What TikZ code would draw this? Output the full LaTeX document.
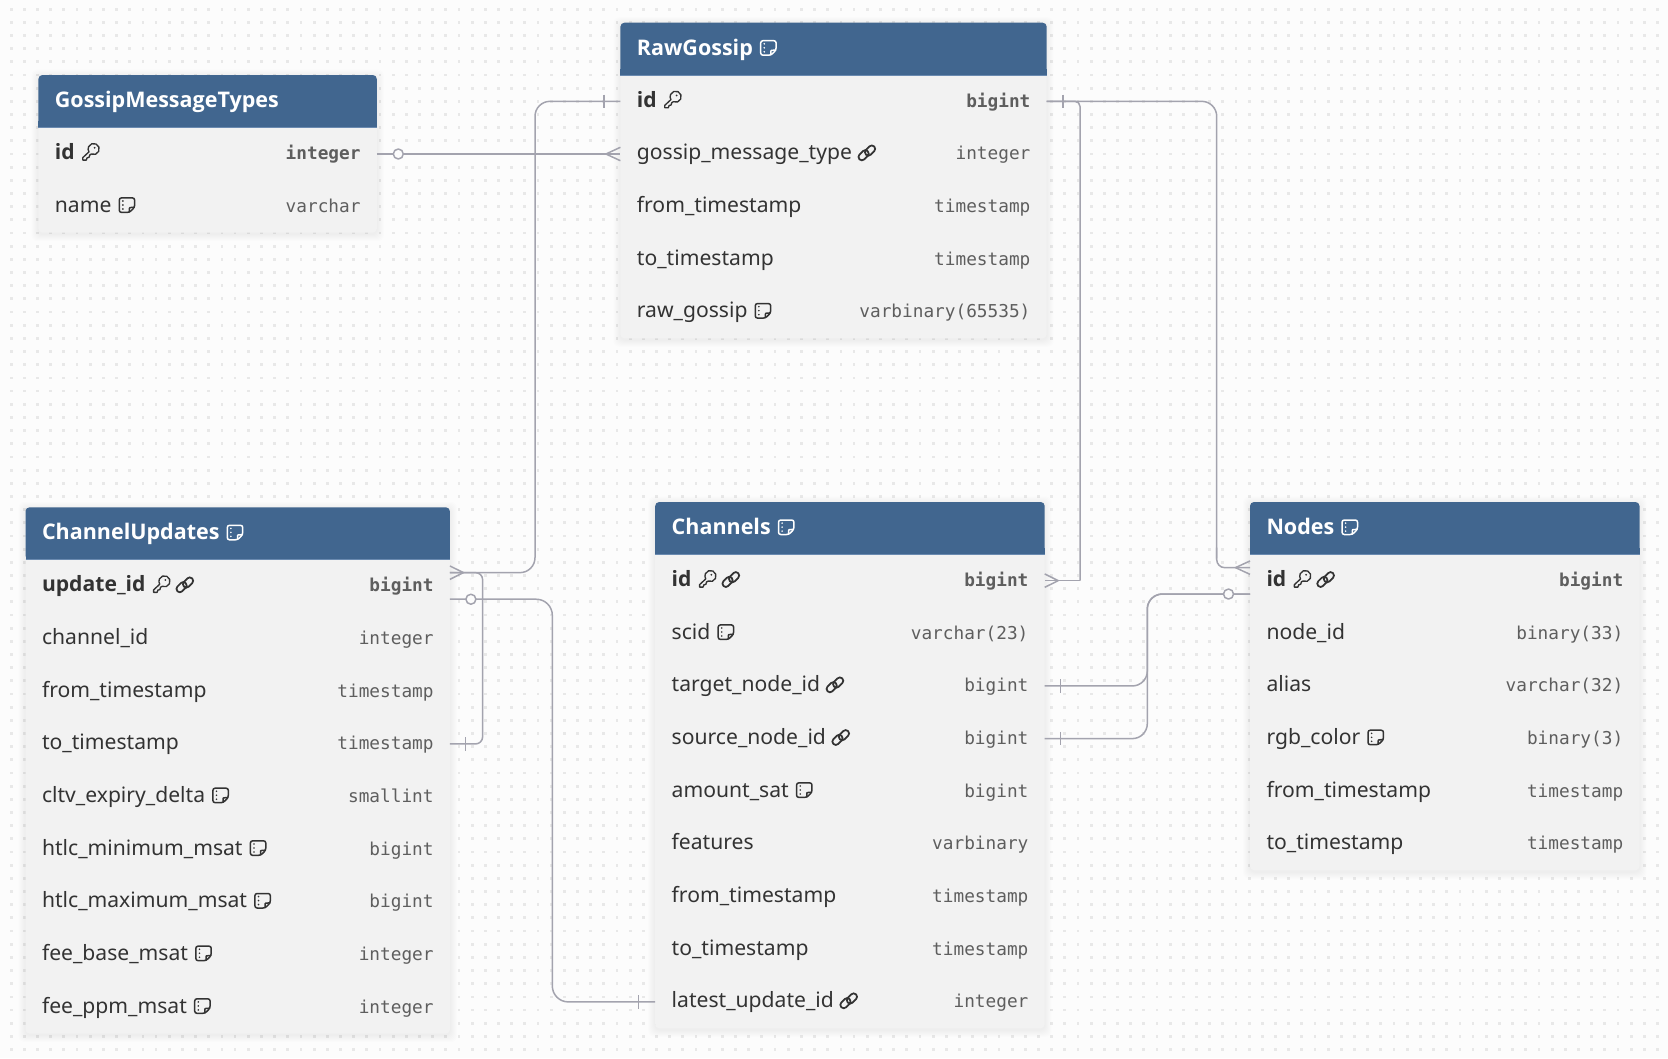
\documentclass[tikz,border=0pt]{standalone}
\usepackage{fontspec}
\usetikzlibrary{calc}
\setmainfont{Noto Sans}
\IfFontExistsTF{Noto Sans Bold}
  {\newfontfamily\fieldbold{Noto Sans Bold}}
  {\IfFontExistsTF{Open Sans Bold}
    {\newfontfamily\fieldbold{Open Sans Bold}}
    {\newfontfamily\fieldbold{Noto Sans}[FakeBold=1.6,FakeStretch=1.06]}}
\newfontfamily\monof{DejaVu Sans Mono}
\definecolor{pagebg}{HTML}{FCFCFC}
\definecolor{griddot}{HTML}{E8E8E8}
\definecolor{bodyfill}{HTML}{F2F2F2}
\definecolor{headfill}{HTML}{41668F}
\definecolor{headline}{HTML}{6A8AB0}
\definecolor{inktext}{HTML}{333333}
\definecolor{typetext}{HTML}{5E5E5E}
\definecolor{relline}{HTML}{A3A3AE}
\newcommand{\fieldfont}{\fontsize{21.12}{24}\selectfont}
\newcommand{\titlefont}{\fontsize{21.5}{24}\selectfont}
\newcommand{\typefont}{\monof\fontsize{17.75}{22}\selectfont}
\newcommand{\fb}[1]{{\fieldbold #1}}
\tikzset{
  rowbox/.style={inner sep=0pt,outer sep=0pt,minimum height=52.66pt},
  fieldtxt/.style={inner sep=0pt,outer sep=0pt,anchor=base west,text=inktext,font=\fieldfont},
  typetxt/.style={inner sep=0pt,outer sep=0pt,anchor=base east,text=typetext,font=\typefont},
  titletxt/.style={inner sep=0pt,outer sep=0pt,anchor=base west,text=white,font=\titlefont\fieldbold},
  rel/.style={draw=relline,line width=1.5pt,line join=round},
  notepic/.pic={\begin{scope}[x=1pt,y=1pt]
    \draw[line width=1.5pt,rounded corners=2.2pt] (0.8,15.3)--(16.2,15.3)--(16.2,6)--(11,0.8)--(0.8,0.8)--cycle;
    \draw[line width=1.5pt,line join=round] (11,0.8)--(11,5)--(11.5,5.6)--(16.2,6);
    \fill (4.4,12.2) circle (0.9pt) (4.4,8.2) circle (0.9pt) (4.4,4.2) circle (0.9pt);
  \end{scope}},
  keypic/.pic={\begin{scope}[x=1.08pt,y=1.08pt]
    \draw[line width=1.35pt,line join=round] (8.9,6)
      arc[start angle=245,end angle=571.5,radius=5.15]
      --(1,2.7)--(1,0.4)--(4.2,0.4)--(5,2.5)--(6.8,3)--(7.5,5.2)--cycle;
    \fill (11.9,11.8) circle (1pt);
  \end{scope}},
  linkpic/.pic={\begin{scope}[x=1pt,y=1pt,shift={(7.8,8)},rotate=45]
    \draw[line width=1.75pt,rounded corners=3.2pt] (-9.7,-2.7) rectangle (1.8,4);
    \draw[line width=1.75pt,rounded corners=3.2pt] (-1.8,-4) rectangle (9.7,2.7);
  \end{scope}},
  nonepic/.pic={}
}
% table frame: key, left, top, width, number of rows, title, icon
\newcommand{\tableframe}[7]{%
  \def\tleft{#2}\def\twide{#4}%
  \pgfmathsetmacro\tright{#2+#4}%
  \pgfmathsetmacro\theadb{#3+52.3}%
  \pgfmathsetmacro\tbot{\theadb+#5*52.66}%
  \pgfmathsetmacro\tcx{#2+#4/2}%
  \pgfmathsetmacro\tfirst{\theadb+26.33}%
  \def\rowi{0}%
  \foreach \s in {1,...,7}{%
    \fill[black,opacity=0.008,rounded corners=6pt]
      (#2-\s,#3-\s+1.5) rectangle (\tright+\s,\tbot+\s+1.5);}%
  \fill[bodyfill,rounded corners=4pt] (#2,#3+6) rectangle (\tright,\tbot);
  \fill[headfill,rounded corners=4pt] (#2,\theadb)--(#2,#3)--(\tright,#3)--(\tright,\theadb)--cycle;
  \fill[headfill] (#2,\theadb-6) rectangle (\tright,\theadb);
  \draw[headline,line width=0.8pt] (#2,\theadb)--(\tright,\theadb);
  \node[titletxt] (#1title) at (#2+16.5,#3+32.3) {#6};
  \pic[color=white] at ($(#1title.base east)+(7,1)$) {#7pic};
}
\newcommand{\fieldrow}[4]{%
  \pgfmathsetmacro\ry{\tfirst+\rowi*52.66}%
  \node[rowbox,minimum width=\twide pt] (#1) at (\tcx,\ry) {};
  \node[fieldtxt] (#1lbl) at ($(#1.west)+(16.5,5.9)$) {#2};
  \node[typetxt] (#1typ) at ($(#1.east)+(-16.3,6)$) {#3};
  \foreach \ic [count=\n from 0] in {#4}{%
    \pic[color=inktext] at ($(#1lbl.base east)+(7+\n*24.5,1)$) {\ic pic};}
  \pgfmathsetmacro\rowi{\rowi+1}\global\let\rowi\rowi
}
\newcommand{\barmark}[2]{\draw[rel] ($(#1)+(#2,-6.7)$)--($(#1)+(#2,6.7)$);}
\newcommand{\crowmark}[2]{\draw[rel] ($(#1)+(0,-6.7)$)--($(#1)+(#2,0)$)--($(#1)+(0,6.7)$);}
\newcommand{\circmark}[2]{\draw[rel,fill=pagebg] ($(#1)+(#2,0)$) circle (5pt);}
\begin{document}
\begin{tikzpicture}[x=1pt,y=-1pt]
\useasboundingbox (0,0) rectangle (1668,1058);
\fill[pagebg] (0,0) rectangle (1668,1058);
\begin{scope}
\pgfsetfillcolor{griddot}
\foreach \j in {0,...,79}{
  \foreach \i in {0,...,126}{
    \pgfpathrectangle{\pgfpoint{\dimexpr 9.8pt+13.17pt*\i\relax}{\dimexpr -10.55pt-13.17pt*\j\relax}}{\pgfpoint{2.8pt}{2.8pt}}
    \pgfusepath{fill}
  }
}
\end{scope}

\tableframe{gmt}{38.4}{75}{338.4}{2}{GossipMessageTypes}{none}
\fieldrow{gmtid}{\fb{id}}{\textbf{integer}}{key}
\fieldrow{gmtname}{name}{varchar}{note}

\tableframe{rg}{620.4}{22.7}{426.3}{5}{RawGossip}{note}
\fieldrow{rgid}{\fb{id}}{\textbf{bigint}}{key}
\fieldrow{rgtype}{gossip\_message\_type}{integer}{link}
\fieldrow{rgfrom}{from\_timestamp}{timestamp}{none}
\fieldrow{rgto}{to\_timestamp}{timestamp}{none}
\fieldrow{rgraw}{raw\_gossip}{varbinary(65535)}{note}

\tableframe{cu}{25.5}{507.3}{424.4}{9}{ChannelUpdates}{note}
\fieldrow{cuid}{\fb{update\_id}}{\textbf{bigint}}{key,link}
\fieldrow{cuchan}{channel\_id}{integer}{none}
\fieldrow{cufrom}{from\_timestamp}{timestamp}{none}
\fieldrow{cuto}{to\_timestamp}{timestamp}{none}
\fieldrow{cucltv}{cltv\_expiry\_delta}{smallint}{note}
\fieldrow{cumin}{htlc\_minimum\_msat}{bigint}{note}
\fieldrow{cumax}{htlc\_maximum\_msat}{bigint}{note}
\fieldrow{cubase}{fee\_base\_msat}{integer}{note}
\fieldrow{cuppm}{fee\_ppm\_msat}{integer}{note}

\tableframe{ch}{655.2}{502}{389.5}{9}{Channels}{note}
\fieldrow{chid}{\fb{id}}{\textbf{bigint}}{key,link}
\fieldrow{chscid}{scid}{varchar(23)}{note}
\fieldrow{chtarget}{target\_node\_id}{bigint}{link}
\fieldrow{chsource}{source\_node\_id}{bigint}{link}
\fieldrow{chamount}{amount\_sat}{bigint}{note}
\fieldrow{chfeat}{features}{varbinary}{none}
\fieldrow{chfrom}{from\_timestamp}{timestamp}{none}
\fieldrow{chto}{to\_timestamp}{timestamp}{none}
\fieldrow{chlatest}{latest\_update\_id}{integer}{link}

\tableframe{nd}{1250}{502}{389.5}{6}{Nodes}{note}
\fieldrow{ndid}{\fb{id}}{\textbf{bigint}}{key,link}
\fieldrow{ndnode}{node\_id}{binary(33)}{none}
\fieldrow{ndalias}{alias}{varchar(32)}{none}
\fieldrow{ndrgb}{rgb\_color}{binary(3)}{note}
\fieldrow{ndfrom}{from\_timestamp}{timestamp}{none}
\fieldrow{ndto}{to\_timestamp}{timestamp}{none}

% lanes and offset ends
\coordinate (laneA) at (535,0);
\coordinate (laneB) at (552.3,0);
\coordinate (laneC) at (482.6,0);
\coordinate (laneD) at (1080,0);
\coordinate (laneE) at (1216.7,0);
\coordinate (laneF) at (1147.3,0);
\coordinate (cuin) at ($(cuid.east)+(0,-13.3)$);
\coordinate (cuout) at ($(cuid.east)+(0,13.3)$);
\coordinate (ndin) at ($(ndid.west)+(0,-13)$);
\coordinate (ndout) at ($(ndid.west)+(0,13.4)$);

% GossipMessageTypes.id -- RawGossip.gossip_message_type
\draw[rel,line width=2pt] (rgtype.west-|gmtid.east)--(rgtype.west);
\circmark{rgtype.west-|gmtid.east}{21.5}
\crowmark{rgtype.west}{-14.5}

% RawGossip.id -- ChannelUpdates.update_id
\draw[rel,rounded corners=15pt] (rgid.west)--(rgid.west-|laneA)--(cuin-|laneA)--(cuin);
\barmark{rgid.west}{-16.5}
\crowmark{cuin}{13.5}

% ChannelUpdates.to_timestamp -- ChannelUpdates.update_id
\draw[rel,rounded corners=7pt] (cuto.east)--(cuto.east-|laneC)--(cuin-|laneC)--(cuin);
\barmark{cuto.east}{15.5}

% ChannelUpdates.update_id -- Channels.latest_update_id
\draw[rel,rounded corners=16pt] (cuout)--(cuout-|laneB)--(chlatest.west-|laneB)--(chlatest.west);
\circmark{cuout}{21}
\barmark{chlatest.west}{-16.5}

% RawGossip.id -- Channels.id
\draw[rel,rounded corners=5pt] (rgid.east)--(rgid.east-|laneD)--(chid.east-|laneD);
\draw[rel] (chid.east-|laneD)--(chid.east);
\barmark{rgid.east}{16.5}
\crowmark{chid.east}{13.5}

% RawGossip.id -- Nodes.id
\draw[rel,rounded corners=15pt] (rgid.east)--(rgid.east-|laneE)--($(ndin-|laneE)+(0,-9)$);
\draw[rel,rounded corners=8pt] ($(ndin-|laneE)+(0,-20)$)--(ndin-|laneE)--(ndin);
\crowmark{ndin}{-14.5}

% Channels.target_node_id / source_node_id -- Nodes.id
\draw[rel,rounded corners=15pt] (chtarget.east)--(chtarget.east-|laneF)--(ndout-|laneF)--(ndout);
\draw[rel,rounded corners=15pt] (chsource.east)--(chsource.east-|laneF)--(ndout-|laneF)--(ndout);
\barmark{chtarget.east}{16}
\barmark{chsource.east}{16}
\circmark{ndout}{-21.5}
\end{tikzpicture}
\end{document}
